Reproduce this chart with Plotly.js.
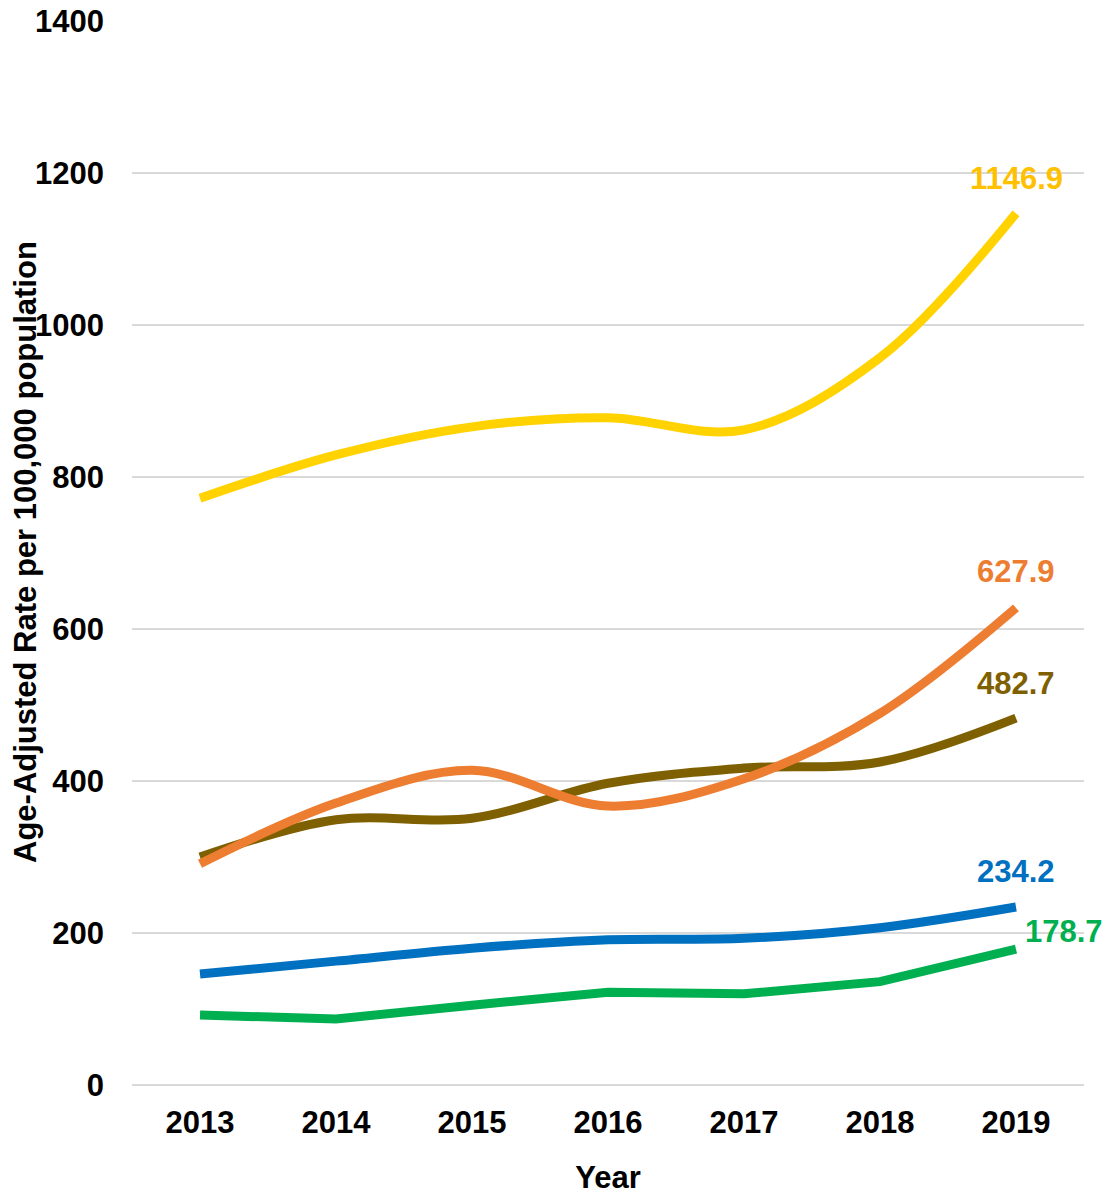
<!DOCTYPE html>
<html>
<head>
<meta charset="utf-8">
<script src="https://cdn.plot.ly/plotly-3.0.1.min.js"></script>
<style>html,body{margin:0;padding:0;background:#fff;}#chart{width:1109px;height:1195px;}</style>
</head>
<body>
<div id="chart"></div>
<script>
const years = ["2013","2014","2015","2016","2017","2018","2019"];
const seriesYellow = [772, 829, 866, 878, 862, 957, 1146.9];
const seriesOrange = [291, 371, 414, 367, 403, 489, 627.9];
const seriesBrown  = [300, 349, 351, 397, 417, 425, 482.7];
const seriesBlue   = [146, 163, 180, 191, 193, 207, 234.2];
const seriesGreen  = [92, 87, 105, 122, 120, 136, 178.7];
const labelTexts = ["1146.9", "627.9", "482.7", "234.2", "178.7"];

const colors = {yellow:"#FFD200", orange:"#ED7D31", brown:"#7F6000", blue:"#0070C0", green:"#00B050"};
const labelColors = ["#FFC000", "#ED7D31", "#7F6000", "#0070C0", "#00B050"];
const FONT = "Liberation Sans, Arial, sans-serif";

function tr(y, color, shape) {
  return {x: years, y: y, type: "scatter", mode: "lines",
    line: {color: color, width: 9, shape: shape, smoothing: 1},
    hoverinfo: "skip", showlegend: false, cliponaxis: false};
}
const data = [
  tr(seriesYellow, colors.yellow, "spline"),
  tr(seriesBrown, colors.brown, "spline"),
  tr(seriesOrange, colors.orange, "spline"),
  tr(seriesBlue, colors.blue, "spline"),
  tr(seriesGreen, colors.green, "linear")
];
const lastVals = [seriesYellow[6], seriesOrange[6], seriesBrown[6], seriesBlue[6], seriesGreen[6]];
const shifts = [[0,35],[0,36],[0,35],[0,36],[48,18]];
const annotations = labelTexts.map((t,i)=>({
  x: years.length - 1, y: lastVals[i], xref:"x", yref:"y", text: "<b>" + t + "</b>", showarrow:false,
  xanchor:"center", yanchor:"middle",
  xshift: shifts[i][0], yshift: shifts[i][1],
  font:{family: FONT, size:31, color: labelColors[i]}
}));
annotations.push({
  xref:"paper", yref:"paper", x:(25-132)/952, y:(1085-552)/1064, text:"<b>Age-Adjusted Rate per 100,000 population</b>",
  textangle:-90, showarrow:false, xanchor:"center", yanchor:"middle",
  font:{family: FONT, size:31, color:"#000"}
});
const layout = {
  width:1109, height:1195,
  margin:{l:132, r:25, t:21, b:110},
  paper_bgcolor:"#fff", plot_bgcolor:"#fff",
  font:{family: FONT, color:"#000"},
  xaxis:{type:"category", range:[-0.5,6.5], showgrid:false, zeroline:false, showline:false,
    ticks:"", tickfont:{size:31, weight:"bold"}, ticklabelstandoff:16,
    title:{text:"<b>Year</b>", font:{size:31}, standoff:28}, automargin:false, fixedrange:true},
  yaxis:{range:[0,1400], dtick:200, showgrid:true, gridcolor:"#D9D9D9", gridwidth:2,
    zeroline:true, zerolinecolor:"#D9D9D9", zerolinewidth:2, showline:false, ticks:"",
    tickfont:{size:31, weight:"bold"}, ticklabelstandoff:27, automargin:false, fixedrange:true},
  annotations: annotations
};
Plotly.newPlot("chart", data, layout, {staticPlot:true, displayModeBar:false});
</script>
</body>
</html>
